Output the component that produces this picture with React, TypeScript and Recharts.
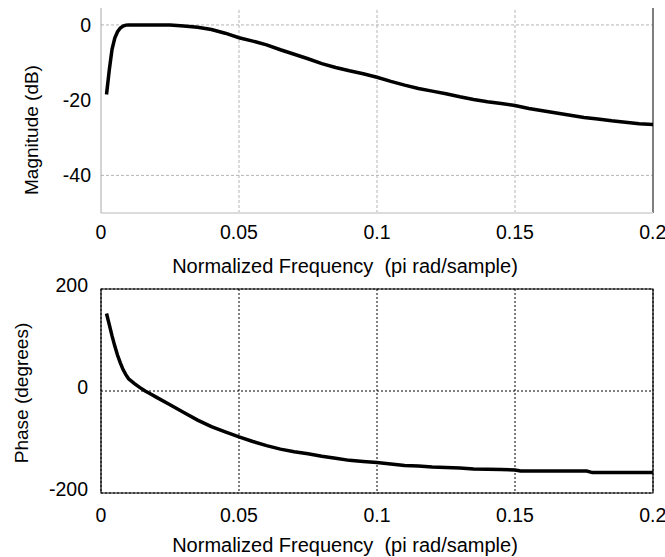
import React from "react";
import { LineChart, Line, XAxis, YAxis, CartesianGrid, ReferenceLine, ReferenceArea, Label } from "recharts";

const FONT = "'Liberation Sans', Arial, sans-serif";

// x axis ticks (normalized frequency)
const freqTicks = [0, 0.05, 0.1, 0.15, 0.2];

// magnitude response (dB)
const magFreq = [0.002, 0.003, 0.004, 0.005, 0.006, 0.007, 0.008, 0.009, 0.01, 0.015, 0.02, 0.025, 0.03, 0.035, 0.04, 0.045, 0.05, 0.055, 0.06, 0.065, 0.07, 0.075, 0.08, 0.085, 0.09, 0.095, 0.1, 0.105, 0.11, 0.115, 0.12, 0.125, 0.13, 0.135, 0.14, 0.145, 0.15, 0.155, 0.16, 0.165, 0.17, 0.175, 0.18, 0.185, 0.19, 0.195, 0.2];
const magDb = [-18.5, -12, -6.5, -3.5, -1.8, -0.8, -0.3, -0.05, 0, 0, 0, 0, -0.3, -0.6, -1.2, -2.2, -3.4, -4.3, -5.3, -6.6, -7.8, -9.0, -10.3, -11.3, -12.2, -13.0, -13.9, -15.0, -16.0, -16.9, -17.6, -18.3, -19.1, -19.8, -20.4, -20.9, -21.4, -22.2, -22.8, -23.4, -24.0, -24.6, -25.0, -25.5, -25.9, -26.3, -26.5];
const magTicks = [-40, -20, 0];
const magGridY = [-40, 0];

// phase response (degrees)
const phaseFreq = [0.002, 0.003, 0.004, 0.005, 0.006, 0.007, 0.008, 0.009, 0.01, 0.012, 0.014, 0.016, 0.018, 0.02, 0.025, 0.03, 0.035, 0.04, 0.045, 0.05, 0.055, 0.06, 0.065, 0.07, 0.075, 0.08, 0.085, 0.09, 0.095, 0.1, 0.105, 0.11, 0.115, 0.12, 0.125, 0.13, 0.135, 0.14, 0.145, 0.15, 0.152, 0.16, 0.17, 0.176, 0.178, 0.19, 0.2];
const phaseDeg = [152, 130, 108, 88, 70, 55, 42, 32, 24, 15, 7, 0, -6, -12, -27, -42, -57, -70, -80, -90, -99, -107, -114, -119, -123, -128, -132, -136, -138, -140, -143, -146, -147, -149, -150, -151, -153, -153.5, -154, -155, -157, -157, -157, -157, -160, -160, -160];
const phaseTicks = [-200, 0, 200];

const magData = magFreq.map((f, i) => ({ f, v: magDb[i] }));
const phaseData = phaseFreq.map((f, i) => ({ f, v: phaseDeg[i] }));

const fmt = (v: number) => String(v);
const tickStyle = { fontSize: 19.5, fill: "#000", fontFamily: FONT };

function vertLabel(text: string, x: number, y: number) {
  return () => (
    <text x={x} y={y} transform={`rotate(-90, ${x}, ${y})`} textAnchor="middle" dominantBaseline="central" fontSize={19} fontFamily={FONT} fill="#000">
      {text}
    </text>
  );
}

function xLabel(y: number) {
  return () => (
    <text x={345} y={y} textAnchor="middle" dominantBaseline="central" fontSize={20} fontFamily={FONT} fill="#000" style={{ whiteSpace: "pre" }}>
      {"Normalized Frequency  (pi rad/sample)"}
    </text>
  );
}

export default function App() {
  return (
    <div style={{ position: "absolute", left: 0, top: 0, width: 665, height: 557, background: "#fff" }}>
      <div style={{ position: "absolute", left: 0, top: 0 }}>
        <LineChart width={665} height={280} data={magData} margin={{ top: 8, right: 12, bottom: 0, left: 0 }}>
          <XAxis dataKey="f" type="number" domain={[0, 0.2]} ticks={freqTicks} tickFormatter={fmt} tickSize={0} tickMargin={12} height={67}
            axisLine={{ stroke: "#dcdcdc", strokeWidth: 2 }} tickLine={false} tick={tickStyle} allowDataOverflow>
            <Label content={xLabel(266)} />
          </XAxis>
          <YAxis type="number" domain={[-50, 4.5]} ticks={magTicks} tickSize={0} tickMargin={10} width={101}
            axisLine={{ stroke: "#a8a8a8" }} tickLine={false} tick={tickStyle} allowDataOverflow>
            <Label content={vertLabel("Magnitude (dB)", 31, 130)} />
          </YAxis>
          {freqTicks.slice(1, -1).map((x) => (
            <ReferenceLine key={x} x={x} stroke="#b4b4b4" strokeDasharray="3 2" />
          ))}
          {magGridY.map((y) => (
            <ReferenceLine key={y} y={y} stroke="#b4b4b4" strokeDasharray="3 2" />
          ))}
          <ReferenceLine x={0.2} stroke="#555" strokeWidth={1.5} />
          <Line type="linear" dataKey="v" stroke="#000" strokeWidth={3.5} dot={false} isAnimationActive={false} />
        </LineChart>
      </div>
      <div style={{ position: "absolute", left: 0, top: 268 }}>
        <LineChart width={665} height={289} data={phaseData} margin={{ top: 21, right: 12, bottom: 0, left: 0 }}>
          <CartesianGrid stroke="#000" strokeDasharray="2 2" />
          <XAxis dataKey="f" type="number" domain={[0, 0.2]} ticks={freqTicks} tickFormatter={fmt} tickSize={0} tickMargin={15} height={64}
            axisLine={false} tickLine={false} tick={tickStyle} allowDataOverflow>
            <Label content={xLabel(277)} />
          </XAxis>
          <YAxis type="number" domain={[-200, 200]} ticks={phaseTicks} tickSize={0} tickMargin={13} width={101}
            axisLine={false} tickLine={false} tick={{ ...tickStyle, dy: -4 }} allowDataOverflow>
            <Label content={vertLabel("Phase (degrees)", 21, 125)} />
          </YAxis>
          <ReferenceArea x1={0} x2={0.2} y1={-200} y2={200} fill="none" stroke="#000" strokeWidth={1.2} />
          <Line type="linear" dataKey="v" stroke="#000" strokeWidth={3.5} dot={false} isAnimationActive={false} />
        </LineChart>
      </div>
    </div>
  );
}
